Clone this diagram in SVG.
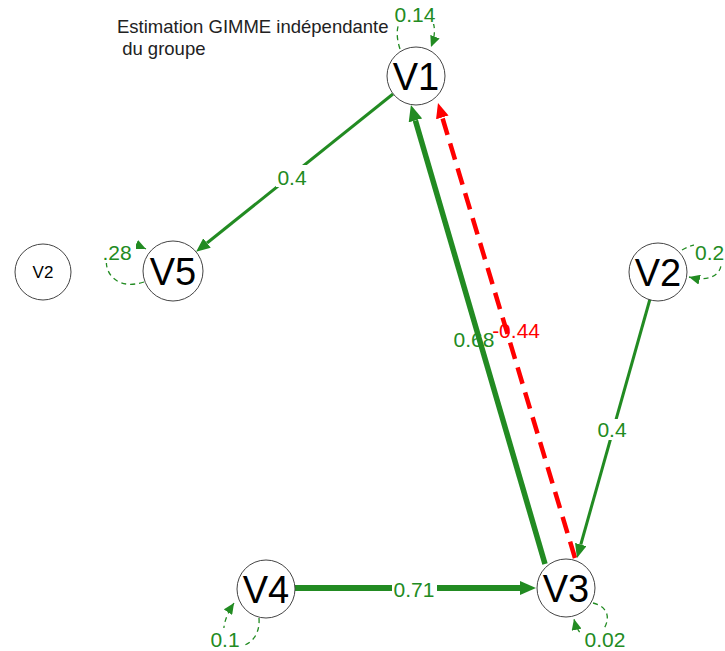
<svg xmlns="http://www.w3.org/2000/svg" width="725" height="651" viewBox="0 0 725 651">
<style>
.node circle{fill:#fff;stroke:#444;stroke-width:1}
.node text{font-family:"Liberation Sans",Arial,sans-serif;fill:#000;text-anchor:middle}
.big{font-size:38px}
.small{font-size:17px}
.e{fill:none;stroke:#228B22}
.loop{fill:none;stroke:#228B22;stroke-width:1.3;stroke-dasharray:5 4}
.lbl{font-family:"Liberation Sans",Arial,sans-serif;font-size:21px;fill:#228B22;text-anchor:middle}
.bg{fill:#fff}
.title{font-family:"Liberation Sans",Arial,sans-serif;font-size:18.5px;fill:#222}
</style>
<defs>
<marker id="aG" markerUnits="userSpaceOnUse" markerWidth="14" markerHeight="12" refX="0" refY="6" orient="auto"><path d="M0,0 L14,6 L0,12 z" fill="#228B22"/></marker>
<marker id="aGb" markerUnits="userSpaceOnUse" markerWidth="16" markerHeight="14" refX="0" refY="7" orient="auto"><path d="M0,0 L16,7 L0,14 z" fill="#228B22"/></marker>
<marker id="aR" markerUnits="userSpaceOnUse" markerWidth="15" markerHeight="13" refX="0" refY="6.5" orient="auto"><path d="M0,0 L15,6.5 L0,13 z" fill="#ff0000"/></marker>
<marker id="aS" markerUnits="userSpaceOnUse" markerWidth="11" markerHeight="10" refX="11" refY="5" orient="auto"><path d="M0,0 L11,5 L0,10 z" fill="#228B22"/></marker>
</defs>
<text class="title" x="117" y="33">Estimation GIMME indépendante</text>
<text class="title" x="117" y="55" xml:space="preserve"> du groupe</text>
<g id="connectors">
<path class="loop" d="M400 49 C383 -2, 450 -2, 431 47" marker-end="url(#aS)"/>
<path class="loop" d="M144 282 C95 298, 92 225, 146 249" marker-end="url(#aS)"/>
<path class="loop" d="M682 250 C725 225, 740 290, 689 277" marker-end="url(#aS)"/>
<path class="loop" d="M259 618 C262 660, 200 655, 234 603" marker-end="url(#aS)"/>
<path class="loop" d="M593 603 C630 612, 585 665, 574 619" marker-end="url(#aS)"/>
<line class="e" x1="393" y1="94" x2="207" y2="243" stroke-width="3" marker-end="url(#aG)"/>
<line x1="575" y1="558" x2="442.3" y2="117.4" stroke="#ff0000" stroke-width="4.5" stroke-dasharray="17 9" marker-end="url(#aR)"/>
<line class="e" x1="545" y1="564" x2="415.4" y2="120.4" stroke-width="5.5" marker-end="url(#aGb)"/>
<line class="e" x1="650" y1="299" x2="580.8" y2="544.5" stroke-width="3" marker-end="url(#aG)"/>
<line class="e" x1="295" y1="588" x2="520" y2="588" stroke-width="6" marker-end="url(#aGb)"/>
<rect class="bg" x="395" y="2" width="40" height="22"/>
<text class="lbl" x="415" y="22">0.14</text>
<rect class="bg" x="99" y="240" width="37" height="23"/>
<text class="lbl" x="117" y="260">.28</text>
<rect class="bg" x="694" y="243" width="31" height="22"/>
<text class="lbl" x="695" y="260" style="text-anchor:start">0.2</text>
<rect class="bg" x="276" y="165" width="33" height="22"/>
<text class="lbl" x="292" y="185">0.4</text>
<text class="lbl" x="540" y="338" style="text-anchor:end;fill:#ff0000">-0.44</text>
<text class="lbl" x="474" y="347">0.68</text>
<rect class="bg" x="596" y="419" width="33" height="21"/>
<text class="lbl" x="612" y="437">0.4</text>
<rect class="bg" x="392" y="578" width="45" height="21"/>
<text class="lbl" x="414" y="597">0.71</text>
<rect class="bg" x="209" y="628" width="33" height="21"/>
<text class="lbl" x="225" y="647">0.1</text>
<rect class="bg" x="582" y="628" width="46" height="21"/>
<text class="lbl" x="605" y="647">0.02</text>
</g>
<g id="V1" class="node"><circle cx="416" cy="76" r="29"/><text class="big" x="416" y="90">V1</text></g>
<g id="V5" class="node"><circle cx="173" cy="271" r="30"/><text class="big" x="173" y="285">V5</text></g>
<g id="V2small" class="node"><circle cx="43" cy="272" r="28"/><text class="small" x="43" y="278">V2</text></g>
<g id="V2" class="node"><circle cx="658" cy="272" r="29"/><text class="big" x="658" y="286">V2</text></g>
<g id="V3" class="node"><circle cx="566" cy="588" r="29"/><text class="big" x="566" y="602">V3</text></g>
<g id="V4" class="node"><circle cx="266" cy="589" r="29"/><text class="big" x="266" y="603">V4</text></g>
</svg>
